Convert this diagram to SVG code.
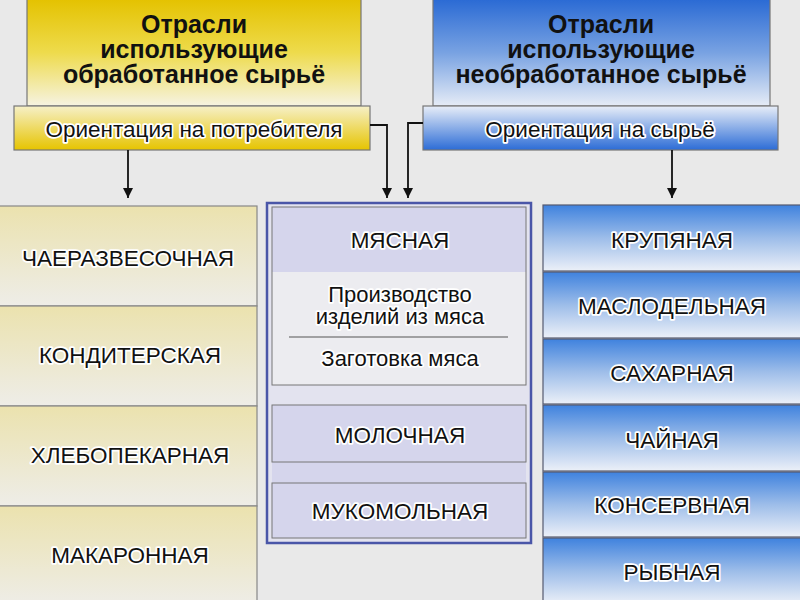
<svg xmlns="http://www.w3.org/2000/svg" width="800" height="600" viewBox="0 0 800 600">
<defs>
<linearGradient id="gYH" x1="0" y1="0" x2="0" y2="1"><stop offset="0" stop-color="#e4c200"/><stop offset="0.5" stop-color="#eedb4c"/><stop offset="1" stop-color="#f6f3e2"/></linearGradient>
<linearGradient id="gYS" x1="0" y1="0" x2="0" y2="1"><stop offset="0" stop-color="#f6f0c8"/><stop offset="1" stop-color="#e6c400"/></linearGradient>
<linearGradient id="gBH" x1="0" y1="0" x2="0" y2="1"><stop offset="0" stop-color="#2a6ad4"/><stop offset="0.5" stop-color="#78a2e2"/><stop offset="1" stop-color="#e6ecf6"/></linearGradient>
<linearGradient id="gBS" x1="0" y1="0" x2="0" y2="1"><stop offset="0" stop-color="#e8eef8"/><stop offset="1" stop-color="#2c6cd6"/></linearGradient>
<linearGradient id="gYC" x1="0" y1="0" x2="0" y2="1"><stop offset="0" stop-color="#ebe2ae"/><stop offset="1" stop-color="#eeede8"/></linearGradient>
<linearGradient id="gBC" x1="0" y1="0" x2="0" y2="1"><stop offset="0" stop-color="#3f82de"/><stop offset="0.5" stop-color="#9dbde9"/><stop offset="1" stop-color="#ecf0f8"/></linearGradient>
<marker id="arr" viewBox="0 0 10 10" refX="10" refY="5" markerWidth="10" markerHeight="10" markerUnits="userSpaceOnUse" orient="auto"><path d="M0,0 L10,5 L0,10 z" fill="#111"/></marker>
</defs>
<style>
text{font-family:"Liberation Sans",Arial,sans-serif;fill:#111;text-anchor:middle;stroke:#fff;stroke-width:3.5;stroke-linejoin:round;paint-order:stroke}
.t{font-size:25px;font-weight:bold;stroke:none}
.s{font-size:22.5px}
.c{font-size:22.5px}
.m{font-size:22px}
.hb{stroke:#777;stroke-width:1.2}
.cb{stroke:#888;stroke-width:1.2}
.bb{stroke:#555a70;stroke-width:1.2}
.ln{fill:none;stroke:#111;stroke-width:1.8}
</style>
<rect width="800" height="600" fill="#e9e9e9"/>

<g id="hdr-left">
<rect x="27" y="-1" width="334" height="107" fill="url(#gYH)" class="hb"/>
<text class="t" x="194" y="33">Отрасли</text>
<text class="t" x="194" y="58">использующие</text>
<text class="t" x="194" y="83">обработанное сырьё</text>
</g>
<g id="sub-left">
<rect x="14" y="106" width="356" height="44" fill="url(#gYS)" class="hb"/>
<text class="s" x="194" y="137">Ориентация на потребителя</text>
</g>
<g id="hdr-right">
<rect x="433" y="-1" width="337" height="107" fill="url(#gBH)" class="hb"/>
<text class="t" x="601" y="33">Отрасли</text>
<text class="t" x="601" y="58">использующие</text>
<text class="t" x="601" y="83">необработанное сырьё</text>
</g>
<g id="sub-right">
<rect x="423" y="106" width="355" height="44" fill="url(#gBS)" class="hb"/>
<text class="s" x="600" y="137">Ориентация на сырьё</text>
</g>

<g id="connectors">
<path class="ln" d="M128,150 V198" marker-end="url(#arr)"/>
<path class="ln" d="M370,125 H387 V198" marker-end="url(#arr)"/>
<path class="ln" d="M423,123 H408 V198" marker-end="url(#arr)"/>
<path class="ln" d="M672,150 V198" marker-end="url(#arr)"/>
</g>

<g id="left-1"><rect x="-1" y="206" width="258" height="100" fill="url(#gYC)" class="cb"/><text class="c" x="128" y="266">ЧАЕРАЗВЕСОЧНАЯ</text></g>
<g id="left-2"><rect x="-1" y="306" width="258" height="100" fill="url(#gYC)" class="cb"/><text class="c" x="130" y="363">КОНДИТЕРСКАЯ</text></g>
<g id="left-3"><rect x="-1" y="406" width="258" height="100" fill="url(#gYC)" class="cb"/><text class="c" x="130" y="463">ХЛЕБОПЕКАРНАЯ</text></g>
<g id="left-4"><rect x="-1" y="506" width="258" height="100" fill="url(#gYC)" class="cb"/><text class="c" x="130" y="563">МАКАРОННАЯ</text></g>

<g id="middle">
<rect x="267" y="203" width="264" height="340" fill="#e3e3ef" stroke="#4a56a8" stroke-width="2.5"/>
<rect x="272" y="207" width="254" height="178" fill="#ececf0" stroke="none"/>
<rect x="272" y="207" width="254" height="65" fill="#d5d5ec" stroke="none"/>
<rect x="272" y="207" width="254" height="178" fill="none" stroke="#777" stroke-width="1"/>
<text class="c" x="400" y="248">МЯСНАЯ</text>
<text class="m" x="400" y="302">Производство</text>
<text class="m" x="400" y="324">изделий из мяса</text>
<line x1="289" y1="337" x2="508" y2="337" stroke="#555" stroke-width="1"/>
<text class="m" x="400" y="366">Заготовка мяса</text>
<rect x="272" y="462" width="254" height="21" fill="#d5d5ec"/>
</g>
<g id="molochnaya"><rect x="272" y="405" width="254" height="57" fill="#d5d5ec" stroke="#777" stroke-width="1"/><text class="c" x="400" y="443">МОЛОЧНАЯ</text></g>
<g id="mukomolnaya"><rect x="272" y="483" width="254" height="55" fill="#d5d5ec" stroke="#777" stroke-width="1"/><text class="c" x="400" y="519">МУКОМОЛЬНАЯ</text></g>

<g id="right-1"><rect x="543" y="205" width="258" height="66" fill="url(#gBC)" class="bb"/><text class="c" x="672" y="248">КРУПЯНАЯ</text></g>
<g id="right-2"><rect x="543" y="272" width="258" height="66" fill="url(#gBC)" class="bb"/><text class="c" x="672" y="314">МАСЛОДЕЛЬНАЯ</text></g>
<g id="right-3"><rect x="543" y="339" width="258" height="65" fill="url(#gBC)" class="bb"/><text class="c" x="672" y="381">САХАРНАЯ</text></g>
<g id="right-4"><rect x="543" y="405" width="258" height="66" fill="url(#gBC)" class="bb"/><text class="c" x="672" y="448">ЧАЙНАЯ</text></g>
<g id="right-5"><rect x="543" y="472" width="258" height="65" fill="url(#gBC)" class="bb"/><text class="c" x="672" y="513">КОНСЕРВНАЯ</text></g>
<g id="right-6"><rect x="543" y="538" width="258" height="66" fill="url(#gBC)" class="bb"/><text class="c" x="672" y="580">РЫБНАЯ</text></g>
</svg>
